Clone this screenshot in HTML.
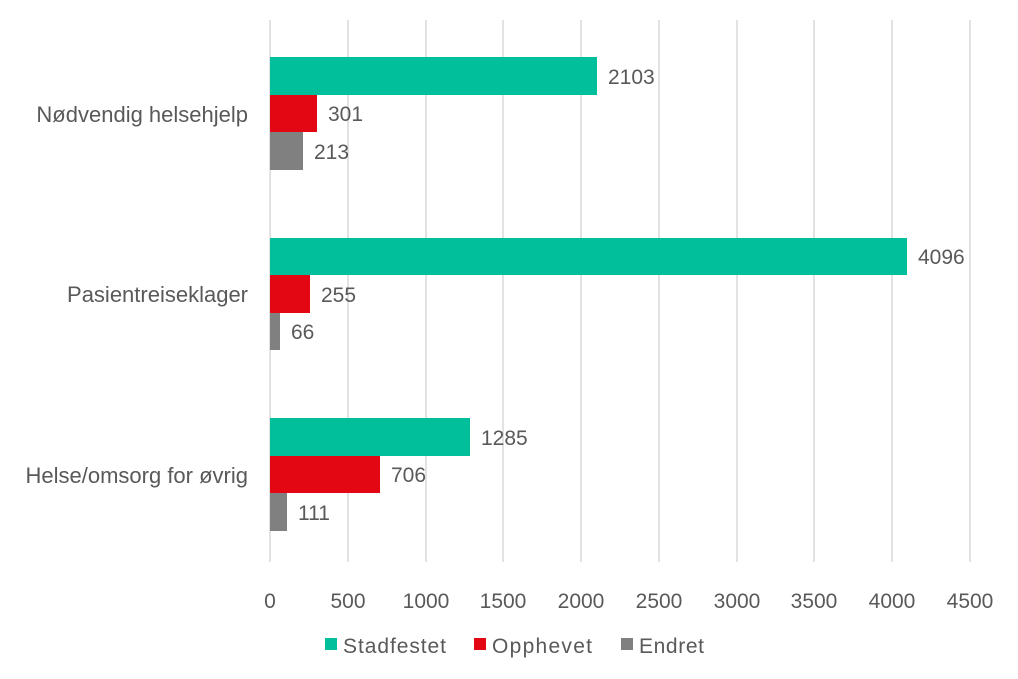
<!DOCTYPE html>
<html><head><meta charset="utf-8"><style>
html,body{margin:0;padding:0;background:#fff;}
svg{display:block;}
text{font-family:"Liberation Sans",Arial,sans-serif;fill:#595959;}
</style></head><body>
<svg width="1018" height="679" xmlns="http://www.w3.org/2000/svg">
<g stroke="#d9d9d9" stroke-width="1.5">
<line x1="348" y1="20" x2="348" y2="562"/>
<line x1="426" y1="20" x2="426" y2="562"/>
<line x1="503" y1="20" x2="503" y2="562"/>
<line x1="581" y1="20" x2="581" y2="562"/>
<line x1="659" y1="20" x2="659" y2="562"/>
<line x1="737" y1="20" x2="737" y2="562"/>
<line x1="814" y1="20" x2="814" y2="562"/>
<line x1="892" y1="20" x2="892" y2="562"/>
<line x1="970" y1="20" x2="970" y2="562"/>
<line x1="270" y1="20" x2="270" y2="562"/>
</g>
<g>
<rect x="270" y="57" width="327" height="38" fill="#00bf9a"/>
<rect x="270" y="95" width="47" height="37" fill="#e30613"/>
<rect x="270" y="132" width="33" height="38" fill="#808080"/>
<rect x="270" y="238" width="637" height="37" fill="#00bf9a"/>
<rect x="270" y="275" width="40" height="38" fill="#e30613"/>
<rect x="270" y="313" width="10" height="37" fill="#808080"/>
<rect x="270" y="418" width="200" height="38" fill="#00bf9a"/>
<rect x="270" y="456" width="110" height="37" fill="#e30613"/>
<rect x="270" y="493" width="17" height="38" fill="#808080"/>
</g>
<g font-size="21">
<text x="608" y="84">2103</text>
<text x="328" y="121">301</text>
<text x="314" y="159">213</text>
<text x="918" y="264">4096</text>
<text x="321" y="302">255</text>
<text x="291" y="339">66</text>
<text x="481" y="445">1285</text>
<text x="391" y="482">706</text>
<text x="298" y="520">111</text>
</g>
<g font-size="22" text-anchor="end">
<text x="248" y="122">Nødvendig helsehjelp</text>
<text x="248" y="302">Pasientreiseklager</text>
<text x="248" y="483">Helse/omsorg for øvrig</text>
</g>
<g font-size="21" text-anchor="middle">
<text x="270" y="608">0</text>
<text x="348" y="608">500</text>
<text x="426" y="608">1000</text>
<text x="503" y="608">1500</text>
<text x="581" y="608">2000</text>
<text x="659" y="608">2500</text>
<text x="737" y="608">3000</text>
<text x="814" y="608">3500</text>
<text x="892" y="608">4000</text>
<text x="970" y="608">4500</text>
</g>
<g font-size="21">
<rect x="325" y="638" width="12" height="12" fill="#00bf9a"/>
<text x="343" y="653" textLength="103">Stadfestet</text>
<rect x="474" y="638" width="12" height="12" fill="#e30613"/>
<text x="492" y="653" textLength="100">Opphevet</text>
<rect x="621" y="638" width="12" height="12" fill="#808080"/>
<text x="639" y="653" textLength="65">Endret</text>
</g>
</svg>
</body></html>
